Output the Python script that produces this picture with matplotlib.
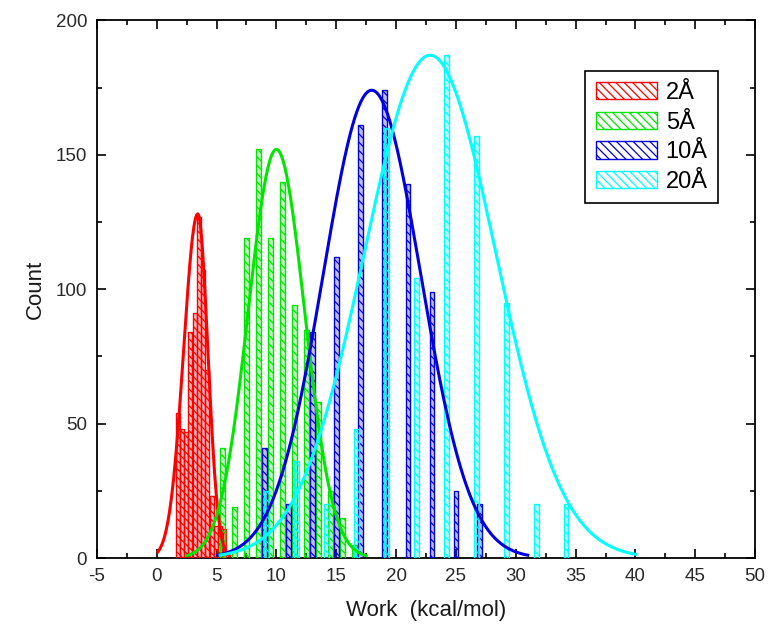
import numpy as np
import matplotlib
matplotlib.use('Agg')
from matplotlib import pyplot as plt
from matplotlib.patches import Patch
from matplotlib.ticker import MultipleLocator

plt.rcParams['font.family'] = ['Liberation Sans', 'DejaVu Sans']
plt.rcParams['hatch.linewidth'] = 0.9
plt.rcParams['axes.unicode_minus'] = False

labels = ['2Å', '5Å', '10Å', '20Å']
colors = ['#ff0000', '#00e600', '#0000e0', '#00ffff']

# histogram bars (bin centre, count)
x_2A = [1.75, 2.1, 2.46, 2.81, 3.17, 3.52, 3.88, 4.23, 4.59, 4.94, 5.3, 5.66]
h_2A = [54, 48, 47, 84, 91, 127, 107, 70, 23, 12, 12, 11]

x_5A = [5.5, 6.5, 7.5, 8.5, 9.5, 10.5, 11.5, 12.5, 13.5, 14.5, 15.5, 16.5]
h_5A = [41, 19, 119, 152, 119, 140, 94, 85, 58, 25, 15, 5]

x_10A = [9, 11, 13, 15, 17, 19, 21, 23, 25, 27]
h_10A = [41, 20, 84, 112, 161, 174, 139, 99, 25, 20]

x_20A = [9.2, 11.7, 14.2, 16.7, 19.2, 21.7, 24.2, 26.7, 29.2, 31.7, 34.2]
h_20A = [25, 36, 20, 48, 160, 104, 187, 157, 95, 20, 20]

bar_x = [x_2A, x_5A, x_10A, x_20A]
bar_h = [h_2A, h_5A, h_10A, h_20A]
bar_w = [0.33, 0.4, 0.4, 0.4]

# fitted curves: peak, centre, left/right width, drawn range
fit_amp = [128, 152, 174, 187]
fit_mu = [3.43, 10.0, 17.96, 22.84]
fit_sl = [1.18, 2.35, 4.05, 5.5]
fit_sr = [0.84, 2.35, 4.1, 5.5]
fit_lo = [0.1, 2.5, 5.1, 5.3]
fit_hi = [6.1, 17.5, 31.0, 40.0]


def split_gauss(x, a, mu, sl, sr):
    s = np.where(x < mu, sl, sr)
    return a*np.exp(-(x - mu)**2/(2*s**2))


fig = plt.figure(figsize=(7.69, 6.35), dpi=100)
ax = fig.add_axes([0.126, 0.121, 0.856, 0.847])

for i in range(4):
    ax.bar(bar_x[i], bar_h[i], width=bar_w[i], facecolor=colors[i], alpha=0.25,
           edgecolor='none', zorder=2)
    ax.bar(bar_x[i], bar_h[i], width=bar_w[i], facecolor='none', edgecolor=colors[i],
           hatch='\\\\\\\\', linewidth=1.0, zorder=3)

for i in range(4):
    xx = np.linspace(fit_lo[i], fit_hi[i], 300)
    ax.plot(xx, split_gauss(xx, fit_amp[i], fit_mu[i], fit_sl[i], fit_sr[i]),
            color=colors[i], lw=2.2, zorder=4)

ax.set_xlim(-5, 50)
ax.set_ylim(0, 200)
ax.xaxis.set_major_locator(MultipleLocator(5))
ax.xaxis.set_minor_locator(MultipleLocator(2.5))
ax.yaxis.set_major_locator(MultipleLocator(50))
ax.yaxis.set_minor_locator(MultipleLocator(25))
ax.tick_params(which='both', direction='in', top=True, right=True, width=1.2)
ax.tick_params(which='major', length=6.5, labelsize=13.5, pad=7, labelcolor='#2a2a2a')
ax.tick_params(which='minor', length=3.5)
for sp in ax.spines.values():
    sp.set_linewidth(1.3)

ax.set_xlabel('Work  (kcal/mol)', fontsize=16, labelpad=11, color='#1a1a1a')
ax.set_ylabel('Count', fontsize=16, labelpad=7, color='#1a1a1a')

handles = [Patch(facecolor='white', edgecolor=c, hatch='\\\\\\\\', lw=1.0) for c in colors]
leg = ax.legend(handles, labels, loc='upper right', bbox_to_anchor=(0.944, 0.905),
                fontsize=17, handlelength=2.6, handleheight=0.75, handletextpad=0.35,
                labelspacing=0.32, borderpad=0.45, borderaxespad=0, fancybox=False,
                framealpha=1, edgecolor='black')
leg.get_frame().set_linewidth(1.2)

fig.savefig('out.png', dpi=100)
